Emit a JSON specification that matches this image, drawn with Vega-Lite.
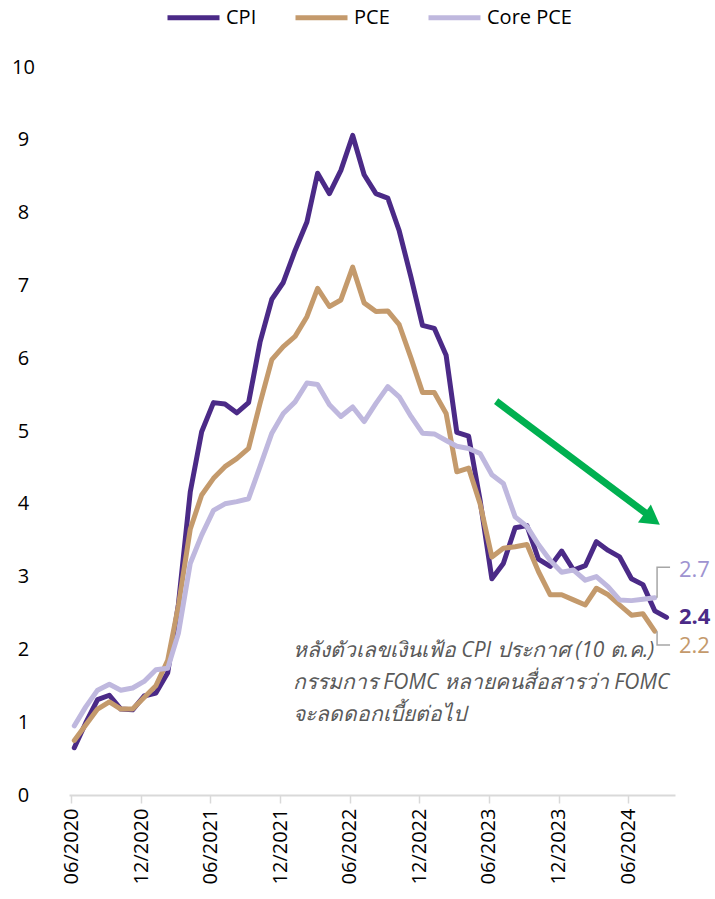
{
  "$schema": "https://vega.github.io/schema/vega-lite/v6.json",
  "width": 606,
  "height": 728,
  "autosize": {"type": "none"},
  "padding": {"left": 69, "top": 67, "right": 40, "bottom": 104},
  "config": {"view": {"stroke": null}, "font": "Open Sans"},
  "datasets": {
    "series": [
      {"s": "CPI", "d": "2020-06-01", "v": 0.65}, {"s": "CPI", "d": "2020-07-01", "v": 0.99}, {"s": "CPI", "d": "2020-08-01", "v": 1.31}, {"s": "CPI", "d": "2020-09-01", "v": 1.37}, {"s": "CPI", "d": "2020-10-01", "v": 1.18}, {"s": "CPI", "d": "2020-11-01", "v": 1.17}, {"s": "CPI", "d": "2020-12-01", "v": 1.36},
      {"s": "CPI", "d": "2021-01-01", "v": 1.40}, {"s": "CPI", "d": "2021-02-01", "v": 1.68}, {"s": "CPI", "d": "2021-03-01", "v": 2.62}, {"s": "CPI", "d": "2021-04-01", "v": 4.16}, {"s": "CPI", "d": "2021-05-01", "v": 4.99}, {"s": "CPI", "d": "2021-06-01", "v": 5.39}, {"s": "CPI", "d": "2021-07-01", "v": 5.37}, {"s": "CPI", "d": "2021-08-01", "v": 5.25}, {"s": "CPI", "d": "2021-09-01", "v": 5.39}, {"s": "CPI", "d": "2021-10-01", "v": 6.22}, {"s": "CPI", "d": "2021-11-01", "v": 6.81}, {"s": "CPI", "d": "2021-12-01", "v": 7.04},
      {"s": "CPI", "d": "2022-01-01", "v": 7.48}, {"s": "CPI", "d": "2022-02-01", "v": 7.87}, {"s": "CPI", "d": "2022-03-01", "v": 8.54}, {"s": "CPI", "d": "2022-04-01", "v": 8.26}, {"s": "CPI", "d": "2022-05-01", "v": 8.58}, {"s": "CPI", "d": "2022-06-01", "v": 9.06}, {"s": "CPI", "d": "2022-07-01", "v": 8.52}, {"s": "CPI", "d": "2022-08-01", "v": 8.26}, {"s": "CPI", "d": "2022-09-01", "v": 8.20}, {"s": "CPI", "d": "2022-10-01", "v": 7.75}, {"s": "CPI", "d": "2022-11-01", "v": 7.11}, {"s": "CPI", "d": "2022-12-01", "v": 6.45},
      {"s": "CPI", "d": "2023-01-01", "v": 6.41}, {"s": "CPI", "d": "2023-02-01", "v": 6.04}, {"s": "CPI", "d": "2023-03-01", "v": 4.98}, {"s": "CPI", "d": "2023-04-01", "v": 4.93}, {"s": "CPI", "d": "2023-05-01", "v": 4.05}, {"s": "CPI", "d": "2023-06-01", "v": 2.97}, {"s": "CPI", "d": "2023-07-01", "v": 3.18}, {"s": "CPI", "d": "2023-08-01", "v": 3.67}, {"s": "CPI", "d": "2023-09-01", "v": 3.70}, {"s": "CPI", "d": "2023-10-01", "v": 3.24}, {"s": "CPI", "d": "2023-11-01", "v": 3.14}, {"s": "CPI", "d": "2023-12-01", "v": 3.35},
      {"s": "CPI", "d": "2024-01-01", "v": 3.09}, {"s": "CPI", "d": "2024-02-01", "v": 3.15}, {"s": "CPI", "d": "2024-03-01", "v": 3.48}, {"s": "CPI", "d": "2024-04-01", "v": 3.36}, {"s": "CPI", "d": "2024-05-01", "v": 3.27}, {"s": "CPI", "d": "2024-06-01", "v": 2.97}, {"s": "CPI", "d": "2024-07-01", "v": 2.89}, {"s": "CPI", "d": "2024-08-01", "v": 2.53}, {"s": "CPI", "d": "2024-09-01", "v": 2.44},

      {"s": "PCE", "d": "2020-06-01", "v": 0.75}, {"s": "PCE", "d": "2020-07-01", "v": 0.96}, {"s": "PCE", "d": "2020-08-01", "v": 1.18}, {"s": "PCE", "d": "2020-09-01", "v": 1.28}, {"s": "PCE", "d": "2020-10-01", "v": 1.18}, {"s": "PCE", "d": "2020-11-01", "v": 1.18}, {"s": "PCE", "d": "2020-12-01", "v": 1.34},
      {"s": "PCE", "d": "2021-01-01", "v": 1.50}, {"s": "PCE", "d": "2021-02-01", "v": 1.85}, {"s": "PCE", "d": "2021-03-01", "v": 2.60}, {"s": "PCE", "d": "2021-04-01", "v": 3.65}, {"s": "PCE", "d": "2021-05-01", "v": 4.12}, {"s": "PCE", "d": "2021-06-01", "v": 4.35}, {"s": "PCE", "d": "2021-07-01", "v": 4.51}, {"s": "PCE", "d": "2021-08-01", "v": 4.62}, {"s": "PCE", "d": "2021-09-01", "v": 4.76}, {"s": "PCE", "d": "2021-10-01", "v": 5.38}, {"s": "PCE", "d": "2021-11-01", "v": 5.98}, {"s": "PCE", "d": "2021-12-01", "v": 6.16},
      {"s": "PCE", "d": "2022-01-01", "v": 6.30}, {"s": "PCE", "d": "2022-02-01", "v": 6.57}, {"s": "PCE", "d": "2022-03-01", "v": 6.96}, {"s": "PCE", "d": "2022-04-01", "v": 6.71}, {"s": "PCE", "d": "2022-05-01", "v": 6.80}, {"s": "PCE", "d": "2022-06-01", "v": 7.25}, {"s": "PCE", "d": "2022-07-01", "v": 6.76}, {"s": "PCE", "d": "2022-08-01", "v": 6.64}, {"s": "PCE", "d": "2022-09-01", "v": 6.65}, {"s": "PCE", "d": "2022-10-01", "v": 6.46}, {"s": "PCE", "d": "2022-11-01", "v": 6.00}, {"s": "PCE", "d": "2022-12-01", "v": 5.53},
      {"s": "PCE", "d": "2023-01-01", "v": 5.53}, {"s": "PCE", "d": "2023-02-01", "v": 5.24}, {"s": "PCE", "d": "2023-03-01", "v": 4.44}, {"s": "PCE", "d": "2023-04-01", "v": 4.49}, {"s": "PCE", "d": "2023-05-01", "v": 4.00}, {"s": "PCE", "d": "2023-06-01", "v": 3.27}, {"s": "PCE", "d": "2023-07-01", "v": 3.39}, {"s": "PCE", "d": "2023-08-01", "v": 3.41}, {"s": "PCE", "d": "2023-09-01", "v": 3.44}, {"s": "PCE", "d": "2023-10-01", "v": 3.07}, {"s": "PCE", "d": "2023-11-01", "v": 2.75}, {"s": "PCE", "d": "2023-12-01", "v": 2.75},
      {"s": "PCE", "d": "2024-01-01", "v": 2.68}, {"s": "PCE", "d": "2024-02-01", "v": 2.61}, {"s": "PCE", "d": "2024-03-01", "v": 2.84}, {"s": "PCE", "d": "2024-04-01", "v": 2.75}, {"s": "PCE", "d": "2024-05-01", "v": 2.61}, {"s": "PCE", "d": "2024-06-01", "v": 2.47}, {"s": "PCE", "d": "2024-07-01", "v": 2.49}, {"s": "PCE", "d": "2024-08-01", "v": 2.25},

      {"s": "Core PCE", "d": "2020-06-01", "v": 0.95}, {"s": "Core PCE", "d": "2020-07-01", "v": 1.21}, {"s": "Core PCE", "d": "2020-08-01", "v": 1.44}, {"s": "Core PCE", "d": "2020-09-01", "v": 1.52}, {"s": "Core PCE", "d": "2020-10-01", "v": 1.44}, {"s": "Core PCE", "d": "2020-11-01", "v": 1.47}, {"s": "Core PCE", "d": "2020-12-01", "v": 1.56},
      {"s": "Core PCE", "d": "2021-01-01", "v": 1.72}, {"s": "Core PCE", "d": "2021-02-01", "v": 1.74}, {"s": "Core PCE", "d": "2021-03-01", "v": 2.22}, {"s": "Core PCE", "d": "2021-04-01", "v": 3.18}, {"s": "Core PCE", "d": "2021-05-01", "v": 3.57}, {"s": "Core PCE", "d": "2021-06-01", "v": 3.91}, {"s": "Core PCE", "d": "2021-07-01", "v": 4.00}, {"s": "Core PCE", "d": "2021-08-01", "v": 4.03}, {"s": "Core PCE", "d": "2021-09-01", "v": 4.07}, {"s": "Core PCE", "d": "2021-10-01", "v": 4.51}, {"s": "Core PCE", "d": "2021-11-01", "v": 4.97}, {"s": "Core PCE", "d": "2021-12-01", "v": 5.24},
      {"s": "Core PCE", "d": "2022-01-01", "v": 5.40}, {"s": "Core PCE", "d": "2022-02-01", "v": 5.66}, {"s": "Core PCE", "d": "2022-03-01", "v": 5.64}, {"s": "Core PCE", "d": "2022-04-01", "v": 5.36}, {"s": "Core PCE", "d": "2022-05-01", "v": 5.20}, {"s": "Core PCE", "d": "2022-06-01", "v": 5.33}, {"s": "Core PCE", "d": "2022-07-01", "v": 5.13}, {"s": "Core PCE", "d": "2022-08-01", "v": 5.38}, {"s": "Core PCE", "d": "2022-09-01", "v": 5.61}, {"s": "Core PCE", "d": "2022-10-01", "v": 5.47}, {"s": "Core PCE", "d": "2022-11-01", "v": 5.20}, {"s": "Core PCE", "d": "2022-12-01", "v": 4.97},
      {"s": "Core PCE", "d": "2023-01-01", "v": 4.96}, {"s": "Core PCE", "d": "2023-02-01", "v": 4.87}, {"s": "Core PCE", "d": "2023-03-01", "v": 4.79}, {"s": "Core PCE", "d": "2023-04-01", "v": 4.76}, {"s": "Core PCE", "d": "2023-05-01", "v": 4.69}, {"s": "Core PCE", "d": "2023-06-01", "v": 4.40}, {"s": "Core PCE", "d": "2023-07-01", "v": 4.28}, {"s": "Core PCE", "d": "2023-08-01", "v": 3.82}, {"s": "Core PCE", "d": "2023-09-01", "v": 3.69}, {"s": "Core PCE", "d": "2023-10-01", "v": 3.44}, {"s": "Core PCE", "d": "2023-11-01", "v": 3.22}, {"s": "Core PCE", "d": "2023-12-01", "v": 3.06},
      {"s": "Core PCE", "d": "2024-01-01", "v": 3.09}, {"s": "Core PCE", "d": "2024-02-01", "v": 2.95}, {"s": "Core PCE", "d": "2024-03-01", "v": 3.00}, {"s": "Core PCE", "d": "2024-04-01", "v": 2.86}, {"s": "Core PCE", "d": "2024-05-01", "v": 2.68}, {"s": "Core PCE", "d": "2024-06-01", "v": 2.67}, {"s": "Core PCE", "d": "2024-07-01", "v": 2.69}, {"s": "Core PCE", "d": "2024-08-01", "v": 2.71}
    ],
    "conn": [
      {"g": "core", "i": 1, "d": "2024-08-15", "v": 2.71}, {"g": "core", "i": 2, "d": "2024-08-15", "v": 3.13}, {"g": "core", "i": 3, "d": "2024-09-18", "v": 3.13},
      {"g": "pce", "i": 1, "d": "2024-08-15", "v": 2.25}, {"g": "pce", "i": 2, "d": "2024-08-15", "v": 2.06}, {"g": "pce", "i": 3, "d": "2024-09-18", "v": 2.06}
    ],
    "endlabels": [
      {"s": "Core PCE", "d": "2024-10-01", "v": 3.09, "t": "2.7"},
      {"s": "CPI", "d": "2024-10-01", "v": 2.45, "t": "2.4"},
      {"s": "PCE", "d": "2024-10-01", "v": 2.04, "t": "2.2"}
    ]
  },
  "encoding": {
    "x": {
      "field": "d", "type": "temporal",
      "scale": {"type": "utc", "domain": [{"year": 2020, "month": 5, "date": 26, "utc": true}, {"year": 2024, "month": 10, "date": 1, "utc": true}]},
      "axis": {
        "title": null, "grid": false,
        "values": [
          {"year": 2020, "month": 6, "date": 1, "utc": true}, {"year": 2020, "month": 12, "date": 1, "utc": true},
          {"year": 2021, "month": 6, "date": 1, "utc": true}, {"year": 2021, "month": 12, "date": 1, "utc": true},
          {"year": 2022, "month": 6, "date": 1, "utc": true}, {"year": 2022, "month": 12, "date": 1, "utc": true},
          {"year": 2023, "month": 6, "date": 1, "utc": true}, {"year": 2023, "month": 12, "date": 1, "utc": true},
          {"year": 2024, "month": 6, "date": 1, "utc": true}
        ],
        "labelExpr": "utcFormat(datum.value, '%m/%Y')",
        "labelAngle": 270, "labelAlign": "right", "labelBaseline": "middle",
        "labelFontSize": 20, "labelColor": "#000000", "labelPadding": 5,
        "tickColor": "#d9d9d9", "tickSize": 8, "tickWidth": 1.5,
        "domainColor": "#d9d9d9", "domainWidth": 2
      }
    },
    "y": {
      "field": "v", "type": "quantitative",
      "scale": {"domain": [0, 10], "nice": false},
      "axis": {
        "title": null, "grid": false, "ticks": false, "domain": false,
        "values": [0, 1, 2, 3, 4, 5, 6, 7, 8, 9, 10],
        "labelFontSize": 20, "labelColor": "#000000", "labelAlign": "center", "labelPadding": 46
      }
    }
  },
  "layer": [
    {
      "data": {"name": "series"},
      "mark": {"type": "line", "strokeWidth": 5, "strokeCap": "round", "strokeJoin": "round", "xOffset": 3},
      "encoding": {
        "color": {
          "field": "s", "type": "nominal",
          "scale": {"domain": ["CPI", "PCE", "Core PCE"], "range": ["#4b2a87", "#c49a6c", "#bfb8de"]},
          "legend": {
            "title": null, "orient": "none", "legendX": 96, "legendY": -78, "direction": "horizontal",
            "symbolType": "stroke", "symbolSize": 2704, "symbolStrokeWidth": 5,
            "labelFontSize": 20, "labelColor": "#000000", "labelOffset": 4, "columnPadding": 28
          }
        }
      }
    },
    {
      "data": {"name": "conn"},
      "mark": {"type": "line", "color": "#a6a6a6", "strokeWidth": 1.5},
      "encoding": {
        "detail": {"field": "g"},
        "order": {"field": "i"}
      }
    },
    {
      "data": {"values": [{"d": "2023-06-20", "v": 5.41, "d2": "2024-07-27", "v2": 3.83}]},
      "mark": {"type": "rule", "color": "#00b050", "strokeWidth": 7},
      "encoding": {
        "x2": {"field": "d2"},
        "y2": {"field": "v2"}
      }
    },
    {
      "data": {"values": [{"d": "2024-08-02", "v": 3.79}]},
      "mark": {"type": "point", "shape": "triangle-right", "size": 484, "angle": 36, "filled": true, "color": "#00b050", "opacity": 1},
      "encoding": {}
    },
    {
      "data": {"values": [{"d": "2022-01-03", "v": 2.13, "t": "หลังตัวเลขเงินเฟ้อ  CPI ประกาศ (10 ต.ค.)\nกรรมการ  FOMC หลายคนสื่อสารว่า  FOMC\nจะลดดอกเบี้ยต่อไป"}]},
      "mark": {"type": "text", "align": "left", "baseline": "top", "fontSize": 21, "fontStyle": "italic", "color": "#595959", "lineBreak": "\n", "lineHeight": 32},
      "encoding": {
        "text": {"field": "t"}
      }
    },
    {
      "data": {"name": "endlabels"},
      "transform": [{"filter": "datum.s === 'Core PCE'"}],
      "mark": {"type": "text", "align": "left", "baseline": "middle", "dx": 4, "fontSize": 22, "color": "#9e93d0"},
      "encoding": {"text": {"field": "t"}}
    },
    {
      "data": {"name": "endlabels"},
      "transform": [{"filter": "datum.s === 'CPI'"}],
      "mark": {"type": "text", "align": "left", "baseline": "middle", "dx": 4, "fontSize": 22, "fontWeight": "bold", "color": "#4b2a87"},
      "encoding": {"text": {"field": "t"}}
    },
    {
      "data": {"name": "endlabels"},
      "transform": [{"filter": "datum.s === 'PCE'"}],
      "mark": {"type": "text", "align": "left", "baseline": "middle", "dx": 4, "fontSize": 22, "color": "#c49a6c"},
      "encoding": {"text": {"field": "t"}}
    }
  ]
}
